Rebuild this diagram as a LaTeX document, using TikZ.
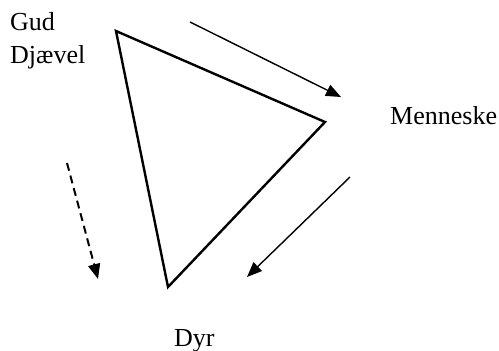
\documentclass[tikz,border=0pt]{standalone}
\usepackage{fontspec}
\setmainfont{Liberation Serif}
\usetikzlibrary{arrows.meta}
\begin{document}
\begin{tikzpicture}[x=1pt,y=-1pt,
  lbl/.style={anchor=base west,inner sep=0pt,font=\fontsize{26}{30}\selectfont},
  arr/.style={line width=1.4pt,-{Triangle[length=15pt,width=12pt]}},
  tri/.style={line width=2.4pt,line join=miter}]
\useasboundingbox (0,0) rectangle (499,351);
\coordinate (A) at (116,31);
\coordinate (B) at (325,122);
\coordinate (C) at (168,287);
\draw[tri] (A) -- (B) -- (C) -- cycle;
\coordinate (a1s) at (190,22);
\coordinate (a1e) at (341,97);
\coordinate (a2s) at (350,177);
\coordinate (a2e) at (247,277);
\coordinate (a3s) at (67,163);
\coordinate (a3e) at (98,279);
\draw[arr] (a1s) -- (a1e);
\draw[arr] (a2s) -- (a2e);
\draw[arr,line width=2pt,dash pattern=on 8pt off 5pt] (a3s) -- (a3e);
\node[lbl] (gud) at (10,30) {Gud};
\node[lbl] (dj) at (10,63) {Djævel};
\node[lbl] (men) at (390,124) {Menneske};
\node[lbl] (dyr) at (174,346) {Dyr};
\end{tikzpicture}
\end{document}
